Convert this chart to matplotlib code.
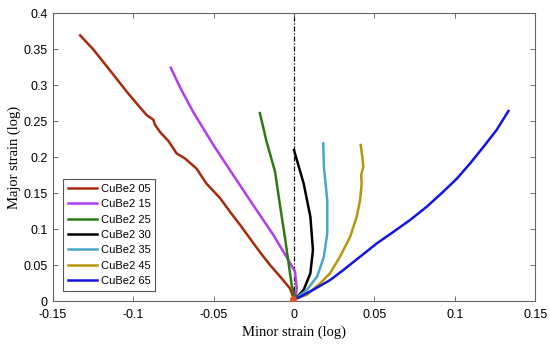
import matplotlib
matplotlib.use("Agg")
import matplotlib.pyplot as plt

labels = ["CuBe2 05", "CuBe2 15", "CuBe2 25", "CuBe2 30", "CuBe2 35", "CuBe2 45", "CuBe2 65"]
colors = ["#a82a0c", "#b23cf0", "#2c7a12", "#000000", "#48a6c8", "#b8960c", "#1414e0"]

x05 = [-0.133, -0.125, -0.115, -0.103, -0.095, -0.0915, -0.0875, -0.0865, -0.0834, -0.078, -0.073, -0.0678,
       -0.0606, -0.0544, -0.046, -0.0398, -0.0336, -0.0274, -0.0212, -0.0149, -0.0077, -0.0025, 0.0]
y05 = [0.369, 0.350, 0.322, 0.288, 0.267, 0.258, 0.252, 0.245, 0.235, 0.222, 0.205, 0.198,
       0.184, 0.163, 0.143, 0.124, 0.106, 0.087, 0.068, 0.050, 0.0315, 0.0176, 0.003]
x15 = [-0.0766, -0.0709, -0.0628, -0.0502, -0.0378, -0.0253, -0.0129, -0.0035, 0.0006, 0.0017, 0.001]
y15 = [0.324, 0.297, 0.263, 0.217, 0.175, 0.133, 0.092, 0.057, 0.041, 0.018, 0.003]
x25 = [-0.0212, -0.017, -0.0118, -0.0087, -0.0056, -0.0035, -0.0014, 0.001]
y25 = [0.261, 0.221, 0.180, 0.133, 0.088, 0.055, 0.022, 0.003]
x30 = [0.0, 0.006, 0.0102, 0.0118, 0.0102, 0.006, 0.001]
y30 = [0.2097, 0.1635, 0.117, 0.0708, 0.0385, 0.0153, 0.003]
x35 = [0.0182, 0.0186, 0.0207, 0.0207, 0.0186, 0.0144, 0.008, 0.001]
y35 = [0.219, 0.1865, 0.140, 0.094, 0.0615, 0.034, 0.0153, 0.003]
x45 = [0.0415, 0.0425, 0.0431, 0.0418, 0.0421, 0.0411, 0.039, 0.0349, 0.0286, 0.0224, 0.0165, 0.008, 0.001]
y45 = [0.2167, 0.200, 0.1865, 0.175, 0.163, 0.140, 0.117, 0.089, 0.0615, 0.0385, 0.025, 0.0086, 0.003]
x65 = [0.1334, 0.126, 0.1178, 0.1095, 0.1013, 0.0929, 0.0826, 0.0722, 0.0618, 0.0515, 0.0411, 0.0307,
       0.0224, 0.0123, 0.004, 0.001]
y65 = [0.264, 0.2375, 0.214, 0.191, 0.170, 0.152, 0.131, 0.1125, 0.096, 0.080, 0.0615, 0.043,
       0.029, 0.016, 0.006, 0.003]

xs = [x05, x15, x25, x30, x35, x45, x65]
ys = [y05, y15, y25, y30, y35, y45, y65]

xticks = [-0.15, -0.1, -0.05, 0, 0.05, 0.1, 0.15]
xticklabels = ["-0.15", "-0.1", "-0.05", "0", "0.05", "0.1", "0.15"]
yticks = [0, 0.05, 0.1, 0.15, 0.2, 0.25, 0.3, 0.35, 0.4]
yticklabels = ["0", "0.05", "0.1", "0.15", "0.2", "0.25", "0.3", "0.35", "0.4"]

fig = plt.figure(figsize=(5.5, 3.44), dpi=100)
ax = fig.add_axes([0.096, 0.125, 0.877, 0.837])

ax.plot([0, 0], [0, 0.4], color="black", linestyle=(0, (4, 1.5, 1, 1.5)), linewidth=0.9, zorder=1)
for x, y, c, l in zip(xs, ys, colors, labels):
    ax.plot(x, y, color=c, linewidth=1.8, label=l, zorder=2, solid_joinstyle="round")
ax.plot([-0.0005], [0.003], marker="o", markersize=4, color="#d85a20", zorder=3)

ax.set_xlim(-0.15, 0.15)
ax.set_ylim(0, 0.4)
ax.set_xticks(xticks)
ax.set_xticklabels(xticklabels)
ax.set_yticks(yticks)
ax.set_yticklabels(yticklabels)
ax.tick_params(direction="in", top=True, right=True, labelsize=9, length=3.5, color="#555555", width=0.6)
ax.tick_params(axis="x", pad=6)
for lab in ax.get_xticklabels() + ax.get_yticklabels():
    lab.set_family("Liberation Sans")
for s in ax.spines.values():
    s.set_color("#666666")
    s.set_linewidth(0.8)

ax.set_xlabel("Minor strain (log)", family="Liberation Serif", fontsize=10.5, labelpad=3)
ax.set_ylabel("Major strain (log)", family="Liberation Serif", fontsize=10.5, labelpad=2)

leg = ax.legend(loc="lower left", bbox_to_anchor=(0.022, 0.035), prop={"family": "Liberation Sans", "size": 8},
                handlelength=2.6, handletextpad=0.3, labelspacing=0.48, borderpad=0.45, borderaxespad=0,
                fancybox=False, edgecolor="#555555", framealpha=1)
leg.get_frame().set_linewidth(0.8)

fig.savefig("out.png", dpi=100)
